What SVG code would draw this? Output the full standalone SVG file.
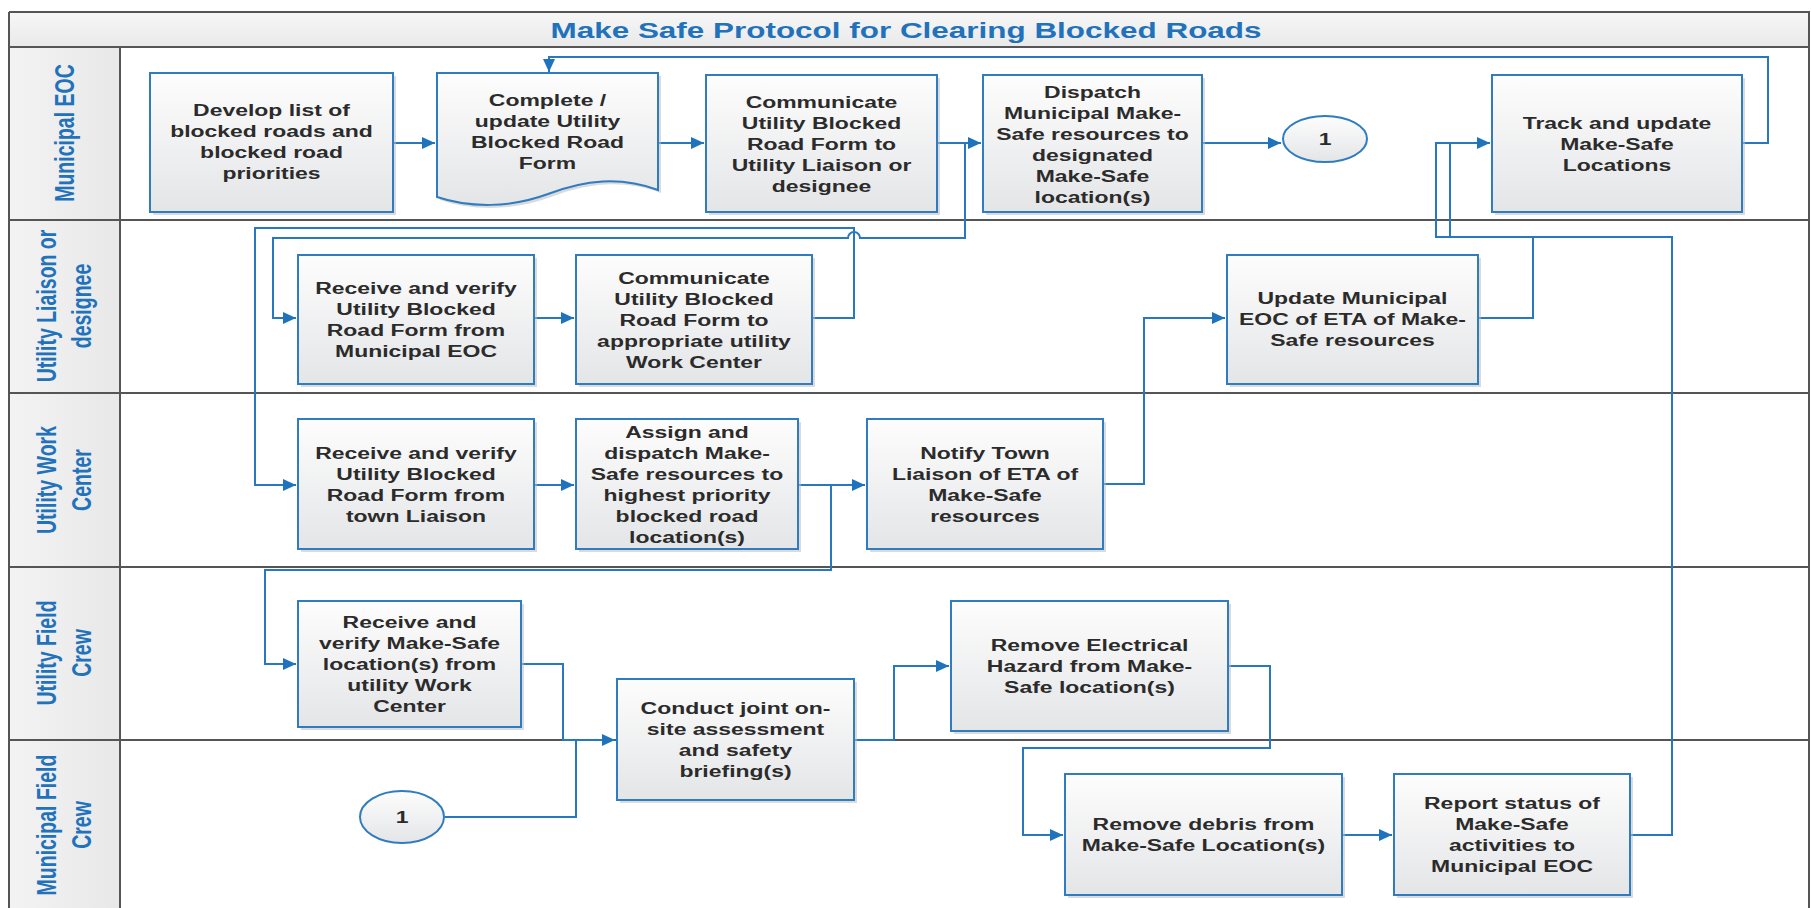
<svg xmlns="http://www.w3.org/2000/svg" width="1811" height="908" viewBox="0 0 1811 908">
<defs>
<linearGradient id="gNode" x1="0" y1="0" x2="0" y2="1"><stop offset="0" stop-color="#fdfdfd"/><stop offset="1" stop-color="#e4e5e7"/></linearGradient>
<linearGradient id="gLane" x1="0" y1="0" x2="1" y2="0"><stop offset="0" stop-color="#f3f3f3"/><stop offset="1" stop-color="#e8e8e8"/></linearGradient>
<linearGradient id="gTitle" x1="0" y1="0" x2="0" y2="1"><stop offset="0" stop-color="#f7f7f7"/><stop offset="1" stop-color="#e9e9e9"/></linearGradient>
<marker id="arr" markerUnits="userSpaceOnUse" markerWidth="14" markerHeight="12" refX="13" refY="6" orient="auto"><path d="M0,0 L13,6 L0,12 z" fill="#1f73bd"/></marker>
<style>
.lane{stroke:#555;stroke-width:2;fill:none}
.lt{font-family:"Liberation Sans",Arial,sans-serif;font-weight:bold;font-size:19.5px;fill:#2272bb;text-anchor:middle}
.nt{font-family:"Liberation Sans",Arial,sans-serif;font-weight:bold;font-size:17px;fill:#2b2b2b;text-anchor:middle}
.box{fill:url(#gNode);stroke:#2f7cc1;stroke-width:2}
.sh{fill:#bdbdbd;opacity:.55}
.cn{fill:none;stroke:#2878c0;stroke-width:2}
.ar{marker-end:url(#arr)}
</style>
</defs>
<rect x="0" y="0" width="1811" height="908" fill="#fff"/>
<g id="frame">
<rect x="9" y="12" width="1800" height="35" fill="url(#gTitle)"/>
<rect x="9" y="47" width="111" height="861" fill="url(#gLane)"/>
<line class="lane" x1="9" y1="12" x2="1810" y2="12"/>
<line class="lane" x1="9" y1="12" x2="9" y2="908"/>
<line class="lane" x1="1809" y1="12" x2="1809" y2="908"/>
<line class="lane" x1="9" y1="47" x2="1810" y2="47"/>
<line class="lane" x1="9" y1="220" x2="1810" y2="220"/>
<line class="lane" x1="9" y1="393" x2="1810" y2="393"/>
<line class="lane" x1="9" y1="567" x2="1810" y2="567"/>
<line class="lane" x1="9" y1="740" x2="1810" y2="740"/>
<line class="lane" x1="120" y1="47" x2="120" y2="908"/>
<text transform="translate(906,37.5) scale(1.43,1)" x="0" y="0" style="font-family:'Liberation Sans',Arial,sans-serif;font-weight:bold;font-size:22px;fill:#2272bb;text-anchor:middle">Make Safe Protocol for Clearing Blocked Roads</text>
</g>
<g id="lanes">
<text class="lt" transform="translate(64,133) scale(1.4,1) rotate(-90)" x="0" y="7">Municipal EOC</text>
<text class="lt" transform="translate(64,306) scale(1.4,1) rotate(-90)"><tspan x="0" y="-5.5">Utility Liaison or</tspan><tspan x="0" y="19.5">designee</tspan></text>
<text class="lt" transform="translate(64,480) scale(1.4,1) rotate(-90)"><tspan x="0" y="-5.5">Utility Work</tspan><tspan x="0" y="19.5">Center</tspan></text>
<text class="lt" transform="translate(64,653) scale(1.4,1) rotate(-90)"><tspan x="0" y="-5.5">Utility Field</tspan><tspan x="0" y="19.5">Crew</tspan></text>
<text class="lt" transform="translate(64,825) scale(1.4,1) rotate(-90)"><tspan x="0" y="-5.5">Municipal Field</tspan><tspan x="0" y="19.5">Crew</tspan></text>
</g>
<g id="connectors">
<path class="cn ar" d="M393,143 H435"/>
<path class="cn ar" d="M658,143 H704"/>
<path class="cn ar" d="M937,143 H981"/>
<path class="cn ar" d="M965,143 V238 H860 A6,6 0 0 0 848,238 H273 V318 H296"/>
<path class="cn ar" d="M1202,143 H1281"/>
<path class="cn ar" d="M1742,143 H1768 V57 H549 V72"/>
<path class="cn ar" d="M534,318 H574"/>
<path class="cn ar" d="M812,318 H854 V228 H255 V485 H296"/>
<path class="cn ar" d="M534,485 H574"/>
<path class="cn ar" d="M798,485 H865"/>
<path class="cn ar" d="M831,485 V570 H265 V664 H296"/>
<path class="cn ar" d="M1103,484 H1144 V318 H1225"/>
<path class="cn" d="M1478,318 H1533 V237 H1450 V143"/>
<path class="cn ar" d="M1630,835 H1672 V237 H1436 V143 H1490"/>
<path class="cn ar" d="M521,664 H563 V740 H615"/>
<path class="cn" d="M445,817 H576 V740"/>
<path class="cn ar" d="M854,740 H894 V666 H949"/>
<path class="cn ar" d="M1228,666 H1270 V748 H1023 V835 H1063"/>
<path class="cn ar" d="M1342,835 H1392"/>
</g>
<g id="n1"><rect class="sh" x="153" y="76" width="243" height="139"/><rect class="box" x="150" y="73" width="243" height="139"/>
<text class="nt" transform="translate(271.5,116) scale(1.35,1)"><tspan x="0">Develop list of</tspan><tspan x="0" dy="21">blocked roads and</tspan><tspan x="0" dy="21">blocked road</tspan><tspan x="0" dy="21">priorities</tspan></text></g>
<g id="n2"><path class="sh" d="M440,76 H661 V193 C623,179 588,183 551,197 C513,211 473,211 440,200 Z"/><path class="box" d="M437,73 H658 V190 C620,176 585,180 548,194 C510,208 470,208 437,197 Z"/>
<text class="nt" transform="translate(547.5,106) scale(1.35,1)"><tspan x="0">Complete /</tspan><tspan x="0" dy="21">update Utility</tspan><tspan x="0" dy="21">Blocked Road</tspan><tspan x="0" dy="21">Form</tspan></text></g>
<g id="n3"><rect class="sh" x="709" y="78" width="231" height="137"/><rect class="box" x="706" y="75" width="231" height="137"/>
<text class="nt" transform="translate(821.5,108) scale(1.35,1)"><tspan x="0">Communicate</tspan><tspan x="0" dy="21">Utility Blocked</tspan><tspan x="0" dy="21">Road Form to</tspan><tspan x="0" dy="21">Utility Liaison or</tspan><tspan x="0" dy="21">designee</tspan></text></g>
<g id="n4"><rect class="sh" x="986" y="78" width="219" height="137"/><rect class="box" x="983" y="75" width="219" height="137"/>
<text class="nt" transform="translate(1092.5,98) scale(1.35,1)"><tspan x="0">Dispatch</tspan><tspan x="0" dy="21">Municipal Make-</tspan><tspan x="0" dy="21">Safe resources to</tspan><tspan x="0" dy="21">designated</tspan><tspan x="0" dy="21">Make-Safe</tspan><tspan x="0" dy="21">location(s)</tspan></text></g>
<g id="n5"><ellipse cx="1325" cy="139" rx="42" ry="23" fill="url(#gNode)" stroke="#2f7cc1" stroke-width="2"/>
<text class="nt" transform="translate(1325,145) scale(1.35,1)" x="0">1</text></g>
<g id="n6"><rect class="sh" x="1495" y="78" width="250" height="137"/><rect class="box" x="1492" y="75" width="250" height="137"/>
<text class="nt" transform="translate(1617,129) scale(1.35,1)"><tspan x="0">Track and update</tspan><tspan x="0" dy="21">Make-Safe</tspan><tspan x="0" dy="21">Locations</tspan></text></g>
<g id="n7"><rect class="sh" x="301" y="258" width="236" height="129"/><rect class="box" x="298" y="255" width="236" height="129"/>
<text class="nt" transform="translate(416,294) scale(1.35,1)"><tspan x="0">Receive and verify</tspan><tspan x="0" dy="21">Utility Blocked</tspan><tspan x="0" dy="21">Road Form from</tspan><tspan x="0" dy="21">Municipal EOC</tspan></text></g>
<g id="n8"><rect class="sh" x="579" y="258" width="236" height="129"/><rect class="box" x="576" y="255" width="236" height="129"/>
<text class="nt" transform="translate(694,284) scale(1.35,1)"><tspan x="0">Communicate</tspan><tspan x="0" dy="21">Utility Blocked</tspan><tspan x="0" dy="21">Road Form to</tspan><tspan x="0" dy="21">appropriate utility</tspan><tspan x="0" dy="21">Work Center</tspan></text></g>
<g id="n9"><rect class="sh" x="1230" y="258" width="251" height="129"/><rect class="box" x="1227" y="255" width="251" height="129"/>
<text class="nt" transform="translate(1352.5,304) scale(1.35,1)"><tspan x="0">Update Municipal</tspan><tspan x="0" dy="21">EOC of ETA of Make-</tspan><tspan x="0" dy="21">Safe resources</tspan></text></g>
<g id="n10"><rect class="sh" x="301" y="422" width="236" height="130"/><rect class="box" x="298" y="419" width="236" height="130"/>
<text class="nt" transform="translate(416,459) scale(1.35,1)"><tspan x="0">Receive and verify</tspan><tspan x="0" dy="21">Utility Blocked</tspan><tspan x="0" dy="21">Road Form from</tspan><tspan x="0" dy="21">town Liaison</tspan></text></g>
<g id="n11"><rect class="sh" x="579" y="422" width="222" height="130"/><rect class="box" x="576" y="419" width="222" height="130"/>
<text class="nt" transform="translate(687,438) scale(1.35,1)"><tspan x="0">Assign and</tspan><tspan x="0" dy="21">dispatch Make-</tspan><tspan x="0" dy="21">Safe resources to</tspan><tspan x="0" dy="21">highest priority</tspan><tspan x="0" dy="21">blocked road</tspan><tspan x="0" dy="21">location(s)</tspan></text></g>
<g id="n12"><rect class="sh" x="870" y="422" width="236" height="130"/><rect class="box" x="867" y="419" width="236" height="130"/>
<text class="nt" transform="translate(985,459) scale(1.35,1)"><tspan x="0">Notify Town</tspan><tspan x="0" dy="21">Liaison of ETA of</tspan><tspan x="0" dy="21">Make-Safe</tspan><tspan x="0" dy="21">resources</tspan></text></g>
<g id="n13"><rect class="sh" x="301" y="604" width="223" height="126"/><rect class="box" x="298" y="601" width="223" height="126"/>
<text class="nt" transform="translate(409.5,628) scale(1.35,1)"><tspan x="0">Receive and</tspan><tspan x="0" dy="21">verify Make-Safe</tspan><tspan x="0" dy="21">location(s) from</tspan><tspan x="0" dy="21">utility Work</tspan><tspan x="0" dy="21">Center</tspan></text></g>
<g id="n14"><rect class="sh" x="620" y="682" width="237" height="121"/><rect class="box" x="617" y="679" width="237" height="121"/>
<text class="nt" transform="translate(735.5,714) scale(1.35,1)"><tspan x="0">Conduct joint on-</tspan><tspan x="0" dy="21">site assessment</tspan><tspan x="0" dy="21">and safety</tspan><tspan x="0" dy="21">briefing(s)</tspan></text></g>
<g id="n15"><ellipse cx="402" cy="817" rx="42" ry="26" fill="url(#gNode)" stroke="#2f7cc1" stroke-width="2"/>
<text class="nt" transform="translate(402,823) scale(1.35,1)" x="0">1</text></g>
<g id="n16"><rect class="sh" x="954" y="604" width="277" height="130"/><rect class="box" x="951" y="601" width="277" height="130"/>
<text class="nt" transform="translate(1089.5,651) scale(1.35,1)"><tspan x="0">Remove Electrical</tspan><tspan x="0" dy="21">Hazard from Make-</tspan><tspan x="0" dy="21">Safe location(s)</tspan></text></g>
<g id="n17"><rect class="sh" x="1068" y="777" width="277" height="121"/><rect class="box" x="1065" y="774" width="277" height="121"/>
<text class="nt" transform="translate(1203.5,830) scale(1.35,1)"><tspan x="0">Remove debris from</tspan><tspan x="0" dy="21">Make-Safe Location(s)</tspan></text></g>
<g id="n18"><rect class="sh" x="1397" y="777" width="236" height="121"/><rect class="box" x="1394" y="774" width="236" height="121"/>
<text class="nt" transform="translate(1512,809) scale(1.35,1)"><tspan x="0">Report status of</tspan><tspan x="0" dy="21">Make-Safe</tspan><tspan x="0" dy="21">activities to</tspan><tspan x="0" dy="21">Municipal EOC</tspan></text></g>
</svg>
